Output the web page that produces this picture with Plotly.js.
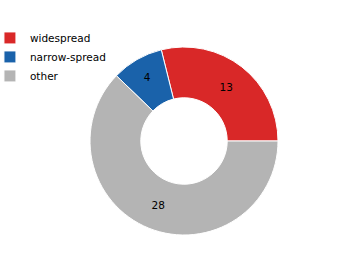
<!DOCTYPE html>
<html><head><meta charset="utf-8">
<script src="https://cdn.plot.ly/plotly-3.0.1.min.js"></script>
<style>html,body{margin:0;padding:0;background:#fff}</style>
</head><body>
<div id="chart" style="width:359px;height:279px"></div>
<script>
const labels = ["widespread", "narrow-spread", "other"];
const values = [13, 4, 28];
const colors = ["#d92828", "#1a62aa", "#b4b4b4"];

Plotly.newPlot("chart", [{
  type: "pie",
  labels: labels,
  values: values,
  hole: 0.46,
  sort: false,
  direction: "counterclockwise",
  rotation: -14,
  marker: {colors: colors, line: {color: "#ffffff", width: 1}},
  textinfo: "value",
  textposition: "inside",
  insidetextorientation: "horizontal",
  textfont: {family: "DejaVu Sans", size: 10.5, color: "#000000"},
  domain: {x: [0.2507, 0.7744], y: [0.1577, 0.8315]}
}], {
  width: 359, height: 279,
  margin: {l: 0, r: 0, t: 0, b: 0, autoexpand: false},
  paper_bgcolor: "#ffffff",
  showlegend: true,
  legend: {x: -0.028, y: 0.916, xanchor: "left", yanchor: "top",
           font: {family: "DejaVu Sans", size: 10.5, color: "#000000"},
           bgcolor: "rgba(0,0,0,0)", tracegroupgap: 0}
}, {displayModeBar: false, staticPlot: true});
</script>
</body></html>
